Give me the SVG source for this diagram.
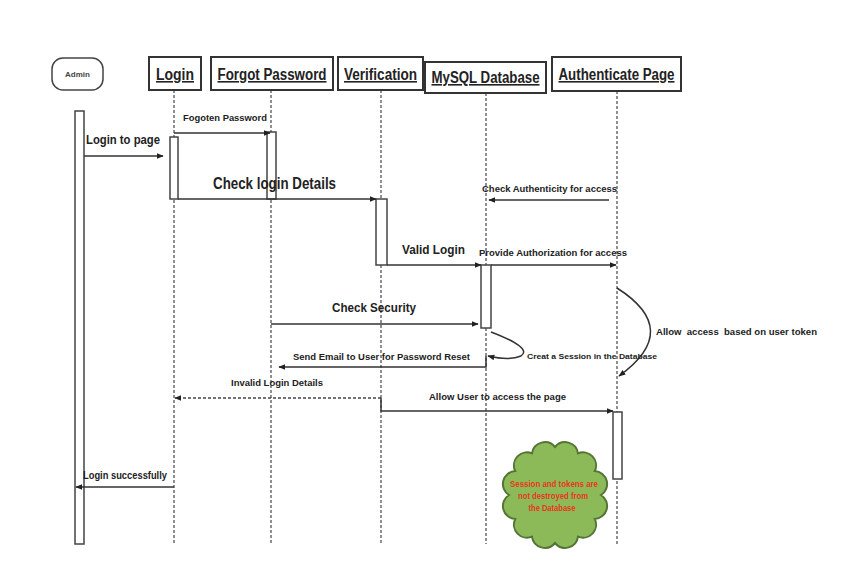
<svg xmlns="http://www.w3.org/2000/svg" width="862" height="564" viewBox="0 0 862 564">
<defs>
<style>
text{font-family:"Liberation Sans",Arial,sans-serif;font-weight:bold;fill:#222}
.hdr{fill:#fff;stroke:#333;stroke-width:2}
.ht{font-size:16px;text-decoration:underline}
.life{stroke:#555;stroke-width:1.3;stroke-dasharray:3,2;fill:none}
.bar{fill:#fff;stroke:#444;stroke-width:1.5}
.msg{stroke:#333;stroke-width:1.5;fill:none;marker-end:url(#ah)}
.dash{stroke:#444;stroke-width:1.3;fill:none;stroke-dasharray:3,2;marker-end:url(#ah)}
.s9{font-size:9px}
.s12{font-size:12px}
.ct{font-size:9px;fill:#e8361a}
</style>
<marker id="ah" viewBox="0 0 10 10" refX="9" refY="5" markerWidth="7" markerHeight="7" orient="auto" markerUnits="userSpaceOnUse">
<path d="M0,1 L10,5 L0,9 Z" fill="#222"/>
</marker>
</defs>
<rect width="862" height="564" fill="#fff"/>

<g id="lifelines">
<line class="life" x1="174" y1="90" x2="174" y2="544"/>
<line class="life" x1="271" y1="90" x2="271" y2="544"/>
<line class="life" x1="381" y1="90" x2="381" y2="544"/>
<line class="life" x1="486" y1="93" x2="486" y2="544"/>
<line class="life" x1="617" y1="91" x2="617" y2="544"/>
</g>

<g id="admin">
<rect x="52" y="58" width="51" height="32" rx="11" fill="#fff" stroke="#444" stroke-width="1.5"/>
<text x="77.5" y="77" font-size="8" text-anchor="middle" style="fill:#444">Admin</text>
<rect class="bar" x="75" y="111" width="9" height="433"/>
</g>
<g id="login">
<rect class="hdr" x="149" y="57" width="52" height="33"/>
<text class="ht" x="175" y="80" text-anchor="middle" textLength="38" lengthAdjust="spacingAndGlyphs">Login</text>
<rect class="bar" x="170" y="137" width="8" height="62"/>
</g>
<g id="forgot">
<rect class="hdr" x="211" y="57" width="122" height="33"/>
<text class="ht" x="272" y="80" text-anchor="middle" textLength="109" lengthAdjust="spacingAndGlyphs">Forgot Password</text>
<rect class="bar" x="267" y="132" width="9" height="67"/>
</g>
<g id="verification">
<rect class="hdr" x="338" y="57" width="85" height="33"/>
<text class="ht" x="380.5" y="80" text-anchor="middle" textLength="73" lengthAdjust="spacingAndGlyphs">Verification</text>
<rect class="bar" x="376" y="199" width="11" height="66"/>
</g>
<g id="mysql">
<rect class="hdr" x="425" y="62" width="121" height="31"/>
<text class="ht" x="485.5" y="83" text-anchor="middle" textLength="108" lengthAdjust="spacingAndGlyphs">MySQL Database</text>
<rect class="bar" x="481" y="265" width="10" height="63"/>
</g>
<g id="authenticate">
<rect class="hdr" x="552" y="57" width="129" height="34"/>
<text class="ht" x="616.5" y="80" text-anchor="middle" textLength="116" lengthAdjust="spacingAndGlyphs">Authenticate Page</text>
<rect class="bar" x="613" y="412" width="9" height="67"/>
</g>

<g id="connectors">
<path class="msg" d="M174,133 H270"/>
<path class="msg" d="M84,156 H163"/>
<path class="msg" d="M178,199 H376"/>
<path class="msg" d="M609,200 H489"/>
<path class="msg" d="M387,265 H481"/>
<path class="msg" d="M491,265 H616"/>
<path class="msg" d="M617,288 Q683,330 619,376"/>
<path class="msg" d="M271,324 H478"/>
<path class="msg" d="M491,332 Q533,348 521,356 Q510,361 488,356"/>
<path class="msg" d="M486,356 V367 H279"/>
<path class="dash" d="M381,398 H175"/>
<path class="msg" d="M381,398 V411 H613"/>
<path class="msg" d="M174,487 H76"/>
</g>

<g id="labels">
<text class="s9" x="183" y="121" textLength="84" lengthAdjust="spacingAndGlyphs">Fogoten Password</text>
<text class="s12" x="86" y="144" textLength="74" lengthAdjust="spacingAndGlyphs">Login to page</text>
<text x="213" y="189" font-size="16" textLength="123" lengthAdjust="spacingAndGlyphs">Check login Details</text>
<text class="s9" x="482" y="192" textLength="135" lengthAdjust="spacingAndGlyphs">Check Authenticity for access</text>
<text class="s12" x="402" y="254" textLength="63" lengthAdjust="spacingAndGlyphs">Valid Login</text>
<text class="s9" x="479" y="256" textLength="148" lengthAdjust="spacingAndGlyphs">Provide Authorization for access</text>
<text class="s9" x="656" y="335" textLength="161" lengthAdjust="spacingAndGlyphs" xml:space="preserve">Allow  access  based on user token</text>
<text class="s12" x="332" y="312" textLength="84" lengthAdjust="spacingAndGlyphs">Check Security</text>
<text x="527" y="359" font-size="8" textLength="130" lengthAdjust="spacingAndGlyphs">Creat a Session in the Database</text>
<text class="s9" x="293" y="360" textLength="177" lengthAdjust="spacingAndGlyphs">Send Email to User for Password Reset</text>
<text class="s9" x="231" y="386" textLength="92" lengthAdjust="spacingAndGlyphs">Invalid Login Details</text>
<text class="s9" x="429" y="400" textLength="137" lengthAdjust="spacingAndGlyphs">Allow User to access the page</text>
<text x="83" y="479" font-size="10" textLength="84" lengthAdjust="spacingAndGlyphs">Login successfully</text>
</g>

<g id="cloud">
<path d="M601,495 A13,13 0 0 1 594.8,519 A13,13 0 0 1 578,536.6 A13,13 0 0 1 555,543 A13,13 0 0 1 532,536.6 A13,13 0 0 1 515.2,519 A13,13 0 0 1 509,495 A13,13 0 0 1 515.2,471 A13,13 0 0 1 532,453.4 A13,13 0 0 1 555,447 A13,13 0 0 1 578,453.4 A13,13 0 0 1 594.8,471 A13,13 0 0 1 601,495 Z" fill="#8dba58" stroke="#557535" stroke-width="2"/>
<text class="ct" x="554" y="487" text-anchor="middle" textLength="88" lengthAdjust="spacingAndGlyphs">Session and tokens are</text>
<text class="ct" x="553" y="499" text-anchor="middle" textLength="70" lengthAdjust="spacingAndGlyphs">not destroyed from</text>
<text class="ct" x="552" y="511" text-anchor="middle" textLength="47" lengthAdjust="spacingAndGlyphs">the Database</text>
</g>
</svg>
